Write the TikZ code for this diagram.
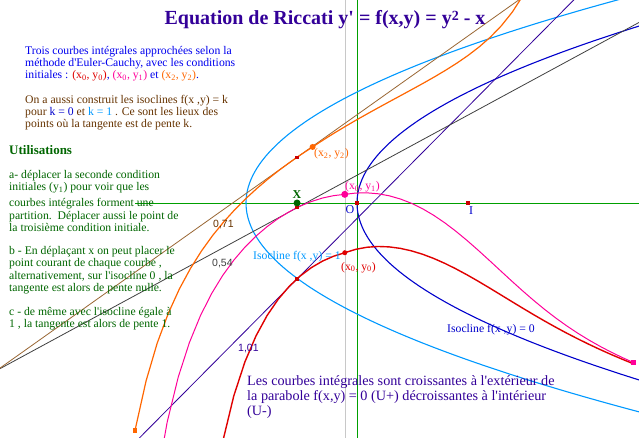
\documentclass[tikz,border=0pt]{standalone}
\usepackage{fontspec}
\setmainfont{Liberation Serif}[Ligatures=TeXOff]
\newfontfamily\sanslab{Liberation Sans}
\usetikzlibrary{calc}
\definecolor{titleviolet}{HTML}{330099}
\definecolor{textblue}{HTML}{0000EE}
\definecolor{textbrown}{HTML}{663300}
\definecolor{textgreen}{HTML}{006600}
\definecolor{axisgreen}{HTML}{00A000}
\definecolor{curvered}{HTML}{E00000}
\definecolor{curvepink}{HTML}{FF0099}
\definecolor{curveorange}{HTML}{FF6600}
\definecolor{isoblue}{HTML}{0000CC}
\definecolor{isolight}{HTML}{0099FF}
\definecolor{tanbrown}{HTML}{996633}
\definecolor{tangrey}{HTML}{404040}
\definecolor{markred}{HTML}{CC0000}
\definecolor{gridgrey}{HTML}{C8C8C8}
\newcommand\ricinit[2]{\xdef\ricx{#1}\xdef\ricy{#2}\xdef\ricpts{(#1,#2)}}
\newcommand\ricstep[1]{%
	\pgfmathsetmacro\ricyn{max(-3,min(3,(\ricy)+(#1)*((\ricy)*(\ricy)-(\ricx))))}%
	\pgfmathsetmacro\ricxn{(\ricx)+(#1)}%
	\xdef\ricx{\ricxn}\xdef\ricy{\ricyn}%
}
\newcommand\rictan[1]{\pgfmathsetmacro\rictmp{(\ricy)+(#1)*((\ricy)*(\ricy)-(\ricx))}\xdef\ricty{\rictmp}}
\newcommand\ricback[1]{\foreach \k in {1,...,#1}{\ricstep{-0.1}\xdef\ricpts{(\ricx,\ricy) \ricpts}}}
\newcommand\ricfwd[1]{\foreach \k in {1,...,#1}{\ricstep{0.1}\xdef\ricpts{\ricpts (\ricx,\ricy)}}}

\begin{document}
\begin{tikzpicture}[x=1pt,y=-1pt,
	txt/.style={anchor=base west,inner sep=0pt,font=\fontsize{11.7}{12.4}\selectfont},
	lab/.style={anchor=base west,inner sep=0pt,font=\sanslab\fontsize{10.5}{12}\selectfont},
	sqmark/.style={rectangle,fill=#1,inner sep=0pt,minimum size=3.4pt},
	dotmark/.style={circle,fill=#1,inner sep=0pt,minimum size=6pt}]
	\fill[white] (0,0) rectangle (639,438);
	\useasboundingbox (0,0) rectangle (639,438);
	\clip (0,0) rectangle (639,438);
	% courbes integrales (Euler-Cauchy, pas 0.1)
	\ricinit{-0.11}{-0.448}\ricback{4}\rictan{-0.03}\global\let\redty\ricty\ricback{15}
	\xdef\ricx{-0.11}\xdef\ricy{-0.448}\ricfwd{26}\global\let\redpts\ricpts
	\ricinit{-0.11}{0.078}\ricback{4}\rictan{-0.03}\global\let\pinkty\ricty\ricback{15}
	\xdef\ricx{-0.11}\xdef\ricy{0.078}\ricfwd{26}\xdef\pinkey{\ricy}\global\let\pinkpts\ricpts
	\ricinit{-0.40}{0.505}\ricback{1}\rictan{-0.04}\global\let\orangety\ricty\ricback{15}\xdef\orangesy{\ricy}
	\xdef\ricx{-0.40}\xdef\ricy{0.505}\ricfwd{29}\global\let\orangepts\ricpts
	\pgfmathsetmacro\redts{(\redty)*(\redty)+0.54}
	\pgfmathsetmacro\pinkts{(\pinkty)*(\pinkty)+0.54}
	\pgfmathsetmacro\orangets{(\orangety)*(\orangety)+0.54}
	\begin{scope}[shift={(357,203)},x=111pt,y=111pt]
		\draw[gridgrey] (-0.11,-2.2) -- (-0.11,1.9);
		\draw[axisgreen] (0,-2.2) -- (0,1.9);
		\draw[axisgreen] (-2,0) -- (2.6,0);
		\draw[isoblue,line width=1.1pt] plot[variable=\t,domain=-2.2:1.9,samples=120] ({\t*\t},\t);
		\draw[isolight,line width=1.1pt] plot[variable=\t,domain=-2.2:1.9,samples=120] ({\t*\t-1},\t);
		\node[sqmark=markred] (tpred) at (-0.54,\redty) {};
		\node[sqmark=markred] (tppink) at (-0.54,\pinkty) {};
		\node[sqmark=markred] (tporange) at (-0.54,\orangety) {};
		\coordinate (tpredA) at ($(tpred)+(-3,{-3*\redts})$);
		\coordinate (tpredB) at ($(tpred)+(4,{4*\redts})$);
		\coordinate (tppinkA) at ($(tppink)+(-3,{-3*\pinkts})$);
		\coordinate (tppinkB) at ($(tppink)+(4,{4*\pinkts})$);
		\coordinate (tporangeA) at ($(tporange)+(-3,{-3*\orangets})$);
		\coordinate (tporangeB) at ($(tporange)+(4,{4*\orangets})$);
		\draw[titleviolet,line width=0.8pt] (tpredA) -- (tpredB);
		\draw[tangrey,line width=0.8pt] (tppinkA) -- (tppinkB);
		\draw[tanbrown,line width=0.8pt] (tporangeA) -- (tporangeB);
		\edef\curvedraw{\noexpand\draw[curvered,line width=1.4pt] plot coordinates {\redpts};
			\noexpand\draw[curvepink,line width=1pt] plot coordinates {\pinkpts};
			\noexpand\draw[curveorange,line width=1.2pt] plot coordinates {\orangepts};}
		\curvedraw
		\node[sqmark=markred] (tpred) at (-0.54,\redty) {};
		\node[sqmark=markred] (tppink) at (-0.54,\pinkty) {};
		\node[sqmark=markred] (tporange) at (-0.54,\orangety) {};
		\node[sqmark=markred] (O) at (0,0) {};
		\node[sqmark=markred] (I) at (1,0) {};
		\node[dotmark=textgreen,minimum size=7pt] (X) at (-0.54,0) {};
		\node[dotmark=curvepink,minimum size=7pt] (x0y1) at (-0.11,0.078) {};
		\node[dotmark=curveorange] (x2y2) at (-0.40,0.505) {};
		\node[dotmark=curvered,minimum size=5pt] (x0y0) at (-0.11,-0.448) {};
		\node[sqmark=curveorange,minimum size=4.5pt] (orangestart) at (-2,\orangesy) {};
		\node[sqmark=curvepink,minimum size=4.5pt] (pinkend) at (2.49,\pinkey) {};
	\end{scope}
	% textes
	\node[anchor=base,inner sep=0pt,text=titleviolet,font=\bfseries\fontsize{20}{22}\selectfont] (title) at (325,25)
		{Equation de Riccati y' = f(x,y) = y\raisebox{4.3pt}{\fontsize{14}{14}\selectfont 2} - x};
	\foreach \yb/\ln [count=\i] in {55/{Trois courbes intégrales approchées selon la},
		67/{méthode d'Euler-Cauchy, avec les conditions},
		79/{initiales : {\color{curvered}(x\textsubscript{0}, y\textsubscript{0})}, {\color{curvepink}(x\textsubscript{0}, y\textsubscript{1})} et {\color{curveorange}(x\textsubscript{2}, y\textsubscript{2})}.}}
		\node[txt,text=textblue] (intro\i) at (25,\yb) {\ln};
	\foreach \yb/\ln [count=\i] in {104/{On a aussi construit les isoclines f(x ,y) = k},
		116/{pour {\color{isoblue}k = 0} et {\color{isolight}k = 1} . Ce sont les lieux des},
		128/{points où la tangente est de pente k.}}
		\node[txt,text=textbrown] (iso\i) at (25,\yb) {\ln};
	\node[anchor=base west,inner sep=0pt,text=textgreen,font=\bfseries\fontsize{13}{14}\selectfont] (util) at (9,155) {Utilisations};
	\foreach \yb/\ln [count=\i] in {179/{a- déplacer la seconde condition},
		191/{initiales (y\textsubscript{1}) pour voir que les},
		207/{courbes intégrales forment une},
		220/{partition.\ \ Déplacer aussi le point de},
		232/{la troisième condition initiale.},
		254/{b - En déplaçant x on peut placer le},
		266.7/{point courant de chaque courbe ,},
		279.3/{alternativement, sur l'isocline 0 , la},
		291.7/{tangente est alors de pente nulle.},
		315.7/{c - de même avec l'isocline égale à},
		327.3/{1 , la tangente est alors de pente 1.}}
		\node[txt,text=textgreen] (use\i) at (9,\yb) {\ln};
	\foreach \yb/\ln [count=\i] in {385/{Les courbes intégrales sont croissantes à l'extérieur de},
		400/{la parabole f(x,y) = 0 (U+) décroissantes à l'intérieur},
		415/{(U-)}}
		\node[anchor=base west,inner sep=0pt,text=titleviolet,font=\fontsize{14.2}{15}\selectfont] (concl\i) at (247,\yb) {\ln};
	\node[txt,text=curveorange] (labx2y2) at (314,157) {(x\textsubscript{2}, y\textsubscript{2})};
	\node[txt,text=curvepink] (labx0y1) at (345,190) {(x\textsubscript{0}, y\textsubscript{1})};
	\node[txt,text=curvered] (labx0y0) at (341,270) {(x\textsubscript{0}, y\textsubscript{0})};
	\node[inner sep=0pt,text=isoblue,font=\fontsize{12}{12}\selectfont] (labO) at (350,210) {O};
	\node[inner sep=0pt,text=isoblue,font=\fontsize{12}{12}\selectfont] (labI) at (471,211) {I};
	\node[inner sep=0pt,text=textgreen,font=\bfseries\fontsize{12}{12}\selectfont] (labX) at (297,195) {X};
	\node[lab,text=textbrown] (slope1) at (213,227) {0,71};
	\node[lab,text=tangrey] (slope2) at (212,266) {0,54};
	\node[lab,text=titleviolet] (slope3) at (238,351) {1,01};
	\node[txt,text=isolight] (iso1lab) at (253,259) {Isocline f(x ,y) = 1};
	\node[txt,text=isoblue] (iso0lab) at (447,332) {Isocline f(x ,y) = 0};
\end{tikzpicture}
\end{document}
